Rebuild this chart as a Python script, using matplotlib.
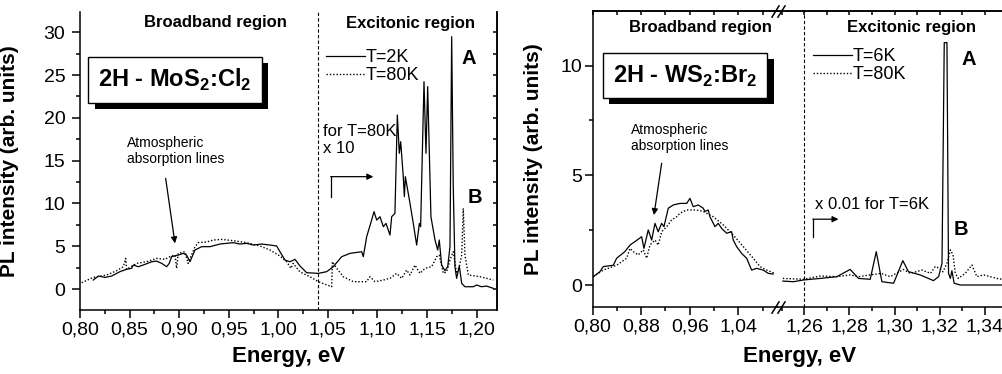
import matplotlib
matplotlib.use("Agg")
import matplotlib.pyplot as plt
import matplotlib.patheffects as pe
from matplotlib.ticker import MultipleLocator, FuncFormatter

plt.rcParams.update({
    "font.family": ["Liberation Sans", "DejaVu Sans"],
    "mathtext.fontset": "custom",
    "mathtext.rm": "Liberation Sans",
    "mathtext.bf": "Liberation Sans:bold",
    "axes.linewidth": 1.1,
    "xtick.labelsize": 14,
    "ytick.labelsize": 14,
})

# --- 2H-MoS2:Cl2 spectra -------------------------------------------------
e_mos_2k = [0.8134, 0.8185, 0.8252, 0.832, 0.8403, 0.847, 0.8521, 0.8538, 0.8588, 0.8655,
            0.8723, 0.8773, 0.8824, 0.8874, 0.89, 0.8924, 0.8991, 0.9042, 0.9075, 0.9109,
            0.916, 0.9227, 0.9311, 0.9412, 0.9479, 0.9546, 0.9613, 0.968, 0.9748, 0.9832,
            0.9916, 0.9983, 1.0017, 1.0067, 1.0118, 1.0168, 1.0218, 1.0286, 1.0403, 1.0488,
            1.0554, 1.0639, 1.0723, 1.0841, 1.0857, 1.0891, 1.0941, 1.0965, 1.0992, 1.1025,
            1.1059, 1.1086, 1.1126, 1.1143, 1.1176, 1.12, 1.122, 1.1234, 1.126, 1.1271,
            1.1281, 1.1328, 1.1361, 1.1395, 1.1422, 1.1435, 1.1469, 1.1489, 1.1506, 1.1539,
            1.158, 1.1607, 1.1623, 1.1647, 1.168, 1.1708, 1.1731, 1.1748, 1.1764, 1.1781,
            1.1798, 1.1825, 1.1849, 1.1882, 1.1966, 1.2, 1.2049, 1.2099, 1.2168]
i_mos_2k = [1.05, 1.52, 1.36, 1.52, 2.03, 2.3, 2.42, 2.8, 2.61, 2.88,
            3.19, 3.27, 3.0, 2.61, 3.0, 3.78, 3.97, 4.17, 3.97, 3.19,
            4.56, 4.95, 4.95, 5.26, 5.34, 5.42, 5.26, 5.34, 5.14, 5.26,
            5.14, 5.03, 4.36, 3.39, 3.19, 3.47, 2.7, 1.91, 1.83, 2.03,
            2.61, 3.78, 4.17, 4.36, 3.78, 6.11, 8.06, 9.04, 8.06, 8.45,
            7.28, 7.67, 6.31, 8.45, 8.84, 20.34, 15.86, 17.22, 13.13, 10.79,
            13.13, 10.0, 7.67, 5.14, 7.67, 7.28, 24.23, 15.86, 23.65, 8.45,
            5.73, 4.56, 5.73, 2.8, 2.14, 2.61, 4.95, 29.49, 11.96, 2.61,
            1.25, 2.69, 0.66, 0.27, 0.27, 0.47, 0.27, 0.35, 0.08]

e_mos_80k = [0.8017, 0.8134, 0.8269, 0.837, 0.8437, 0.8461, 0.847, 0.8571, 0.8672, 0.8773,
             0.8857, 0.8907, 0.8958, 0.8975, 0.8991, 0.9059, 0.909, 0.916, 0.9193, 0.9277,
             0.9344, 0.9429, 0.9546, 0.968, 0.9815, 0.9916, 1.0017, 1.0084, 1.0128, 1.015,
             1.0218, 1.0319, 1.0403, 1.0538, 1.0545, 1.0589, 1.0655, 1.0756, 1.089, 1.0924,
             1.0975, 1.1059, 1.1126, 1.1193, 1.1244, 1.1294, 1.1328, 1.1378, 1.1428, 1.1479,
             1.1546, 1.1597, 1.1623, 1.1664, 1.1698, 1.1731, 1.1764, 1.1798, 1.1825, 1.1849,
             1.1865, 1.1882, 1.1916, 1.2034, 1.2168]
i_mos_80k = [0.74, 1.36, 1.64, 2.14, 2.61, 3.58, 2.3, 3.0, 3.19, 3.58,
             3.47, 3.78, 3.97, 2.42, 4.17, 4.36, 3.0, 4.95, 5.42, 5.5,
             5.73, 5.8, 5.65, 5.42, 5.03, 4.56, 3.86, 3.19, 2.42, 3.0,
             2.0, 1.44, 0.86, 0.27, 3.19, 2.42, 1.44, 0.86, 0.86, 1.44,
             0.86, 1.05, 1.25, 1.83, 1.25, 2.22, 1.64, 2.8, 1.83, 2.42,
             2.61, 3.78, 3.97, 1.83, 2.03, 3.39, 4.36, 1.83, 2.61, 3.97,
             9.43, 3.97, 1.64, 1.44, 1.05]

# --- 2H-WS2:Br2 spectra (broken energy axis) -----------------------------
e_ws_6k_lo = [0.801, 0.812, 0.8175, 0.834, 0.8395, 0.853, 0.8615, 0.8697, 0.8807, 0.8845,
              0.8916, 0.8972, 0.9027, 0.908, 0.9137, 0.9175, 0.9246, 0.9329, 0.9439, 0.955,
              0.9603, 0.9658, 0.974, 0.9823, 0.985, 0.9905, 0.9933, 1.0016, 1.007, 1.0126,
              1.0208, 1.029, 1.0317, 1.0373, 1.0455, 1.0538, 1.062, 1.0703, 1.0811, 1.0894,
              1.0976]
i_ws_6k_lo = [0.38, 0.61, 0.84, 0.9, 1.22, 1.52, 1.82, 1.98, 2.2, 1.67,
              2.51, 2.05, 2.81, 2.43, 2.81, 2.66, 3.5, 3.65, 3.72, 3.72,
              3.95, 3.57, 3.65, 3.5, 3.35, 3.42, 3.11, 2.66, 2.81, 2.58,
              2.36, 2.43, 2.05, 1.75, 1.44, 1.22, 0.68, 0.76, 0.68, 0.53,
              0.5]
e_ws_80k_lo = [0.801, 0.8175, 0.8395, 0.856, 0.8615, 0.867, 0.875, 0.8834, 0.889, 0.8944,
               0.9027, 0.908, 0.9137, 0.922, 0.930, 0.9384, 0.9439, 0.955, 0.9713, 0.9823,
               0.9988, 1.0153, 1.0317, 1.0482, 1.0647, 1.0757, 1.0868, 1.1004]
i_ws_80k_lo = [0.38, 0.68, 0.9, 1.22, 1.67, 1.52, 1.37, 1.6, 1.22, 1.82,
               2.05, 1.82, 2.43, 2.66, 2.96, 3.11, 3.27, 3.42, 3.42, 3.35,
               3.11, 2.74, 2.28, 1.75, 1.22, 0.84, 0.68, 0.53]

e_ws_6k_hi = [1.2504, 1.2551, 1.2596, 1.267, 1.2744, 1.2803, 1.284, 1.2892, 1.2919, 1.2944,
              1.2996, 1.3037, 1.3062, 1.3114, 1.3173, 1.3196, 1.3211, 1.3221, 1.3233, 1.324,
              1.3248, 1.3255, 1.3265, 1.3292, 1.3479]
i_ws_6k_hi = [0.18, 0.15, 0.23, 0.30, 0.38, 0.71, 0.30, 0.26, 1.52, 0.15,
              0.08, 1.11, 0.61, 0.46, 0.2, 0.38, 0.99, 11.05, 11.05, 0.53,
              0.3, 0.65, 0.08, 0.0, 0.0]
e_ws_80k_hi = [1.2504, 1.2596, 1.267, 1.2744, 1.2803, 1.284, 1.2892, 1.294, 1.2981, 1.304,
               1.307, 1.3122, 1.316, 1.3181, 1.320, 1.3215, 1.3233, 1.3248, 1.326, 1.327,
               1.3284, 1.3314, 1.3344, 1.3366, 1.3396, 1.3425, 1.3455, 1.3479]
i_ws_80k_hi = [0.30, 0.26, 0.41, 0.38, 0.46, 0.38, 0.46, 0.53, 0.38, 0.71,
               0.53, 0.68, 0.53, 0.84, 0.76, 0.6, 0.99, 1.6, 1.37, 0.53,
               0.3, 0.53, 0.91, 0.38, 0.46, 0.38, 0.3, 0.26]

SOLID = dict(color="black", lw=0.9, ls="-")
DOTTED = dict(color="black", lw=1.0, ls=(0, (1, 1.4)))
DASHED = dict(color="black", lw=0.8, ls=(0, (3, 2)))
comma = FuncFormatter(lambda v, p: f"{v:.2f}".replace(".", ","))


def frame(ax, xmaj, xmin, ymaj, ymin, top=True, right=True, ypad=5):
    ax.xaxis.set_major_locator(MultipleLocator(xmaj))
    ax.xaxis.set_minor_locator(MultipleLocator(xmin))
    ax.yaxis.set_major_locator(MultipleLocator(ymaj))
    ax.yaxis.set_minor_locator(MultipleLocator(ymin))
    ax.xaxis.set_major_formatter(comma)
    ax.tick_params(which="major", direction="out", length=5.5, width=1.1)
    ax.tick_params(which="minor", direction="out", length=3, width=1.1)
    ax.tick_params(axis="x", pad=3)
    ax.tick_params(axis="y", pad=ypad)
    if top:
        sx = ax.secondary_xaxis("top")
        sx.xaxis.set_major_locator(MultipleLocator(xmin))
        sx.tick_params(direction="in", length=3, width=1.1, labeltop=False)
    else:
        ax.spines["top"].set_visible(False)
    if right:
        sy = ax.secondary_yaxis("right")
        sy.yaxis.set_major_locator(MultipleLocator(ymin))
        sy.tick_params(direction="in", length=3, width=1.1, labelright=False)


def shadow_box(ax, x, y, text):
    t = ax.text(x, y, text, fontsize=17, fontweight="bold", ha="left", va="center",
                zorder=6,
                bbox=dict(boxstyle="square,pad=0.42", fc="white", ec="black", lw=1.0))
    t.get_bbox_patch().set_path_effects([
        pe.SimplePatchShadow(offset=(4.5, -4), shadow_rgbFace="black", alpha=1.0),
        pe.Normal()])
    return t


fig = plt.figure(figsize=(10.02, 3.74), dpi=100)

# ===================== left panel: MoS2 ==================================
ax = fig.add_axes([0.0798, 0.1711, 0.4159, 0.7968])
ax.plot(e_mos_2k, i_mos_2k, label="T=2K", **SOLID)
ax.plot(e_mos_80k, i_mos_80k, label="T=80K", **DOTTED)
ax.axvline(1.04, **DASHED)
ax.set_xlim(0.80, 1.2202)
ax.set_ylim(-2.45, 32.37)
frame(ax, 0.05, 0.025, 5, 2.5, top=False, ypad=5)
ax.set_ylabel("PL intensity (arb. units)", fontsize=15, fontweight="bold")
ax.yaxis.set_label_coords(-0.146, 0.5)

ax.text(0.937, 31.2, "Broadband region", fontsize=12, fontweight="bold",
        ha="center", va="center")
ax.text(1.1328, 31.0, "Excitonic region", fontsize=12, fontweight="bold",
        ha="center", va="center")
shadow_box(ax, 0.8185, 24.4, r"2H - MoS$_\mathbf{2}$:Cl$_\mathbf{2}$")
ax.text(1.1923, 26.9, "A", fontsize=14.5, fontweight="bold", ha="center", va="center")
ax.text(1.1983, 10.75, "B", fontsize=14.5, fontweight="bold", ha="center", va="center")
ax.text(1.0448, 19.3, "for T=80K\nx 10", fontsize=12, ha="left", va="top",
        linespacing=1.15)
ax.plot([1.0528, 1.0528], [10.79, 13.13], color="black", lw=0.9)
ax.annotate("", xy=(1.0958, 13.13), xytext=(1.0528, 13.13),
            arrowprops=dict(arrowstyle="-|>", color="black", lw=0.9,
                            mutation_scale=9, shrinkA=0, shrinkB=0))
ax.text(0.8471, 17.9, "Atmospheric\nabsorption lines", fontsize=10, ha="left", va="top")
ax.annotate("", xy=(0.8958, 5.34), xytext=(0.8864, 12.94),
            arrowprops=dict(arrowstyle="-|>", color="black", lw=0.9,
                            mutation_scale=9, shrinkA=0, shrinkB=0))
ax.legend(loc="upper left", bbox_to_anchor=(0.59, 0.875), frameon=False,
          fontsize=13, handlelength=2.15, handletextpad=0.05, labelspacing=0.05,
          borderpad=0, borderaxespad=0)
fig.text(0.2878, 0.0455, "Energy, eV", fontsize=16, fontweight="bold",
         ha="center", va="center")

# ===================== right panel: WS2 (broken axis) ====================
axl = fig.add_axes([0.5915, 0.1799, 0.1852, 0.7906])
axr = fig.add_axes([0.7768, 0.1799, 0.2233, 0.7906], sharey=axl)

axl.plot(e_ws_6k_lo, i_ws_6k_lo, **SOLID)
axl.plot(e_ws_80k_lo, i_ws_80k_lo, **DOTTED)
axr.plot(e_ws_6k_hi, i_ws_6k_hi, label="T=6K", **SOLID)
axr.plot(e_ws_80k_hi, i_ws_80k_hi, label="T=80K", **DOTTED)
axr.axvline(1.26, **DASHED)

axl.set_xlim(0.80, 1.1059)
axr.set_xlim(1.2484, 1.3478)
axl.set_ylim(-0.99, 12.49)
frame(axl, 0.08, 0.04, 5, 2.5, right=False, ypad=2)
frame(axr, 0.02, 0.01, 5, 2.5, right=False)
axl.spines["right"].set_visible(False)
axr.spines["left"].set_visible(False)
axr.spines["right"].set_visible(False)
axr.tick_params(axis="y", which="both", left=False, labelleft=False)
axl.set_ylabel("PL intensity (arb. units)", fontsize=15, fontweight="bold")
axl.yaxis.set_label_coords(-0.268, 0.5)

# break marks "//"
brk = dict(marker=[(-1, -1.6), (1, 1.6)], markersize=9, ls="none", color="black",
           mec="black", mew=1.1, clip_on=False, transform=axr.transAxes)
for xb in (-0.0148, 0.012):
    axr.plot([xb, xb], [0, 1], **brk)

axl.text(0.978, 11.72, "Broadband region", fontsize=12, fontweight="bold",
         ha="center", va="center")
axr.text(1.3077, 11.74, "Excitonic region", fontsize=12, fontweight="bold",
         ha="center", va="center")
shadow_box(axl, 0.8335, 9.53, r"2H - WS$_\mathbf{2}$:Br$_\mathbf{2}$")
axl.text(0.8631, 7.4, "Atmospheric\nabsorption lines", fontsize=10, ha="left", va="top")
axl.annotate("", xy=(0.901, 3.19), xytext=(0.9137, 5.55),
             arrowprops=dict(arrowstyle="-|>", color="black", lw=0.9,
                             mutation_scale=9, shrinkA=0, shrinkB=0))
axr.text(1.3328, 10.26, "A", fontsize=14.5, fontweight="bold", ha="center", va="center")
axr.text(1.3297, 2.51, "B", fontsize=14.5, fontweight="bold", ha="center", va="center")
axr.text(1.2648, 3.69, "x 0.01 for T=6K", fontsize=12, ha="left", va="center")
axr.plot([1.2637, 1.2637], [2.2, 3.0], color="black", lw=0.9)
axr.annotate("", xy=(1.2751, 3.0), xytext=(1.2637, 3.0),
             arrowprops=dict(arrowstyle="-|>", color="black", lw=0.9,
                             mutation_scale=9, shrinkA=0, shrinkB=0))
axr.legend(loc="upper left", bbox_to_anchor=(0.156, 0.875), frameon=False,
           fontsize=13, handlelength=2.15, handletextpad=0.05, labelspacing=0.05,
           borderpad=0, borderaxespad=0)
fig.text(0.798, 0.0455, "Energy, eV", fontsize=16, fontweight="bold",
         ha="center", va="center")

fig.savefig("out.png", dpi=100)
